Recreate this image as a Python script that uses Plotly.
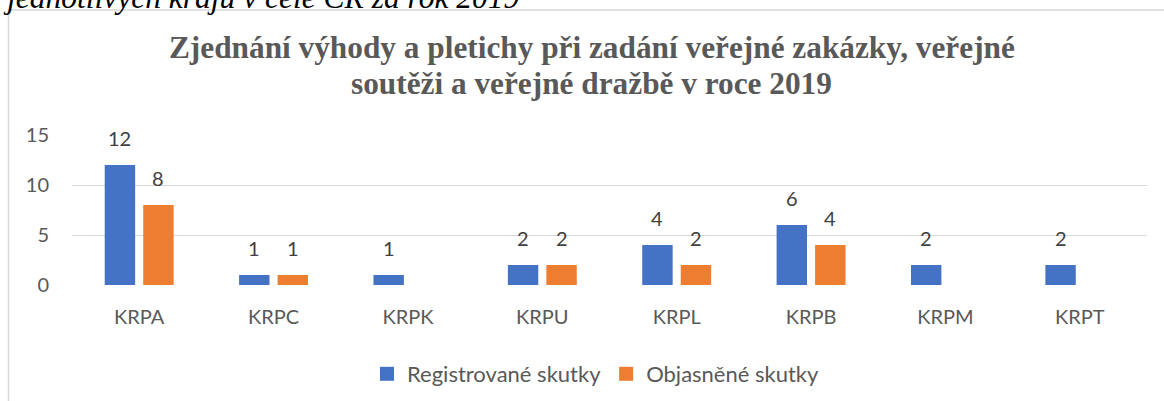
import plotly.graph_objects as go

categories = ["KRPA", "KRPC", "KRPK", "KRPU", "KRPL", "KRPB", "KRPM", "KRPT"]
registrovane = [12, 1, 1, 2, 4, 6, 2, 2]
objasnene = [8, 1, None, 2, 2, 4, None, None]
series_names = ["Registrované skutky", "Objasněné skutky"]
y_ticks = [0, 5, 10, 15]
title_lines = ["Zjednání výhody a pletichy při zadání veřejné zakázky, veřejné",
               "soutěži a veřejné dražbě v roce 2019"]
caption_text = "jednotlivých krajů v celé ČR za rok 2019"

BLUE = "#4472C4"
ORANGE = "#ED7D31"
GRID = "#D9D9D9"
TXT = "#595959"
LBL = "#404040"
FONT = "Lato"

W, H = 1164, 401
ML, MR, MT, MB = 72, W - 1147, 135, H - 285
PW = W - ML - MR
PH = H - MT - MB


def px_x(px):
    return (px - ML) / PW


def px_y(py):
    return (H - MB - py) / PH


fig = go.Figure()
for name, vals, col in [(series_names[0], registrovane, BLUE), (series_names[1], objasnene, ORANGE)]:
    fig.add_trace(go.Bar(x=categories, y=vals, name=name, marker_color=col,
                         marker_line_width=0, showlegend=False))
    fig.add_trace(go.Scatter(x=[None], y=[None], mode="markers", name=name,
                             marker=dict(symbol="square", size=14, color=col)))

annotations = []
for vals, shift in [(registrovane, -19.25), (objasnene, 19.25)]:
    for c, v in zip(categories, vals):
        if v is None:
            continue
        annotations.append(dict(x=c, y=v, xref="x", yref="y", text=str(v), showarrow=False,
                                xshift=shift, yshift=13, yanchor="bottom",
                                font=dict(family=FONT, size=20, color=LBL)))

for line, cy in zip(title_lines, [47, 83]):
    annotations.append(dict(x=px_x(591.5), y=px_y(cy), xref="paper", yref="paper",
                            text=line, showarrow=False, xanchor="center", yanchor="middle",
                            font=dict(family="Liberation Serif", size=31.3, color=TXT, weight="bold")))
annotations.append(dict(x=px_x(1), y=px_y(17), xref="paper", yref="paper",
                        text="<i>" + caption_text + "</i>", showarrow=False,
                        xanchor="left", yanchor="bottom",
                        font=dict(family="Liberation Serif", size=31.5, color="#000000")))

fig.update_layout(
    width=W, height=H,
    margin=dict(l=ML, r=MR, t=MT, b=MB, pad=0, autoexpand=False),
    paper_bgcolor="white", plot_bgcolor="white",
    barmode="group", bargap=0.427, bargroupgap=0.21,
    font=dict(family=FONT, size=20, color=TXT),
    annotations=annotations,
    shapes=[dict(type="rect", xref="paper", yref="paper",
                 x0=px_x(8.5), x1=px_x(1200), y0=px_y(10), y1=px_y(450),
                 line=dict(color=GRID, width=1.5), fillcolor="rgba(0,0,0,0)", layer="below")],
    legend=dict(orientation="h", x=px_x(596), xanchor="center", y=px_y(353), yanchor="top",
                font=dict(family=FONT, size=22, color=TXT), itemsizing="trace",
                bgcolor="rgba(0,0,0,0)"),
    xaxis=dict(range=[-0.5, 7.5], showgrid=False, showline=False, zeroline=False, ticks="",
               automargin=False,
               ticklabelstandoff=18, tickfont=dict(family=FONT, size=20, color=TXT)),
    yaxis=dict(range=[0, 15], tickvals=y_ticks, showgrid=True, gridcolor=GRID, gridwidth=1.3,
               zeroline=False, showline=False, ticks="", ticklabelstandoff=22, automargin=False,
               tickfont=dict(family=FONT, size=20, color=TXT)),
)
fig.write_html("out.html", config={"displayModeBar": False},
               post_script="document.body.style.margin='0';document.body.style.overflow='hidden';")
